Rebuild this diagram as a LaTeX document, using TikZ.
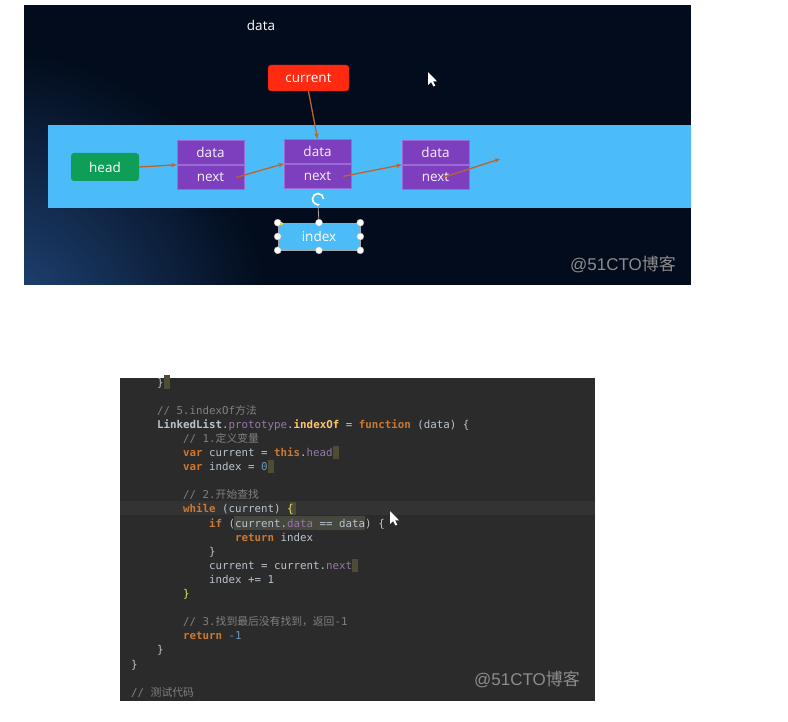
\documentclass[tikz,border=0pt]{standalone}
\usepackage{fontspec}
\usepackage{xcolor}
\setmainfont{Open Sans}
\newfontfamily\cjk{Noto Sans CJK SC}
\newfontfamily\codefont{DejaVu Sans Mono}
\newfontfamily\markfont{Liberation Sans}
\usetikzlibrary{arrows.meta,positioning}

\definecolor{slidebg}{HTML}{020C1C}
\definecolor{slideglow}{HTML}{234A80}
\definecolor{bandblue}{HTML}{4CBCF9}
\definecolor{cellpurple}{HTML}{7E3FBE}
\definecolor{celledge}{HTML}{9A6AD6}
\definecolor{headgreen}{HTML}{0E9E58}
\definecolor{curred}{HTML}{FF2A12}
\definecolor{linkbrown}{HTML}{C0622A}
\definecolor{codebg}{HTML}{2B2B2B}
\definecolor{codeln}{HTML}{333333}
\definecolor{codehl}{HTML}{46473F}
\definecolor{codecur}{HTML}{4E4C35}
\definecolor{codetx}{HTML}{BBC4CF}
\definecolor{codekw}{HTML}{CC7832}
\definecolor{codecm}{HTML}{808080}
\definecolor{codepr}{HTML}{9876AA}
\definecolor{codefn}{HTML}{FFC66D}
\definecolor{codenum}{HTML}{6897BB}
\definecolor{codebr}{HTML}{E6E66A}
\definecolor{markgray}{HTML}{8C8C8C}

\newcommand{\kwd}[1]{\textcolor{codekw}{\bfseries #1}}
\newcommand{\cmt}[1]{\textcolor{codecm}{#1}}
\newcommand{\prp}[1]{\textcolor{codepr}{#1}}
\newcommand{\fnm}[1]{\textcolor{codefn}{\bfseries #1}}
\newcommand{\nmb}[1]{\textcolor{codenum}{#1}}
\newcommand{\brk}[1]{\textcolor{codebr}{#1}}

\tikzset{
  pointer/.pic={\fill[white] (0,0) -- (0,13) -- (3,10) -- (5.5,14.5) -- (7.3,13.6) -- (5,9.3) -- (9,9.3) -- cycle;},
}

\begin{document}
\begin{tikzpicture}[x=1pt, y=-1pt, >={Stealth[length=5.5pt,width=4.5pt]},
    font=\fontsize{13.5pt}{16pt}\selectfont,
    cellbox/.style={fill=cellpurple, draw=celledge, line width=0.6pt, minimum width=67pt,
      minimum height=24.5pt, inner sep=0, text=white!92!cellpurple},
    tagbox/.style={minimum width=68pt, minimum height=28pt, inner sep=0, text=white, rounded corners=3pt},
    link/.style={->, linkbrown, line width=1.3pt},
    handle/.style={circle, fill=white, draw=gray!60, inner sep=0, minimum size=7pt},
    codeline/.style={anchor=base west, inner sep=0, text=codetx,
      font=\codefont\fontsize{10.8pt}{13pt}\selectfont},
    wmark/.style={text=markgray, font=\markfont\fontsize{17pt}{20pt}\selectfont}]
  \useasboundingbox (0,0) rectangle (788,722);
  \fill[white] (0,0) rectangle (788,722);

  % slide
  \fill[slidebg] (24,5) rectangle (691,285);
  \begin{scope}
    \clip (24,5) rectangle (691,285);
    \shade[inner color=slideglow, outer color=slidebg] (-10,330) circle (280);
  \end{scope}
  \fill[bandblue] (48,125) rectangle (691,208);

  \node[text=white] (title) at (261,25) {data};
  \node[tagbox, fill=curred, draw=curred!70!black, minimum width=81pt, minimum height=26pt] (cur) at (308.5,78) {current};
  \node[tagbox, fill=headgreen] (head) at (105,167) {head};

  \foreach \i/\x/\y in {1/210.5/152.25, 2/317.5/151.25, 3/435.5/152.25}{
    \node[cellbox] (d\i) at (\x,\y) {data};
    \node[cellbox, below=0pt of d\i] (n\i) {next};
  }
  \coordinate (tail) at (500,159);
  \draw[link] (head.east) -- (d1.south west);
  \draw[link] ([xshift=-8pt]n1.east) -- (d2.south west);
  \draw[link] ([xshift=-8pt]n2.east) -- (d3.south west);
  \draw[link] ([xshift=-26pt]n3.east) -- (tail);
  \draw[link] (cur.south) -- (d2.north);

  % selected index box
  \node[fill=bandblue, draw=gray!70, line width=0.6pt, minimum width=82pt, minimum height=27pt,
    inner sep=0, text=white] (idx) at (319,236.5) {index};
  \coordinate (rot) at (318,199);
  \draw[gray!70, line width=0.8pt] ([yshift=-6pt]rot) -- (idx.north);
  \draw[white, line width=1.6pt, -{Stealth[length=3pt]}] ([xshift=5.5pt]rot) arc[start angle=0, end angle=290, radius=5.5pt];
  \foreach \a [count=\k] in {north west, north, north east, west, east, south west, south, south east}
    \node[handle] (hdl\k) at (idx.\a) {};
  \fill[yellow!80!orange] ([xshift=4pt,yshift=-1pt]idx.north west) circle (1.8);

  \pic at (428,72) {pointer};
  \node[wmark] (wm1) at (623,264) {@51CTO{\cjk 博客}};

  % code
  \fill[codebg] (120,378) rectangle (595,701);
  \fill[codeln] (120,501) rectangle (595,515);
  \fill[codehl] (234,515.5) rectangle (365,529.5);
  \foreach \x/\y in {164/382, 333/452, 268/466, 290/508, 352/565}
    \fill[codecur] (\x,\y-6.5) rectangle +(6,13);

  \foreach \row/\lvl/\txt in {
      0/1/{\}},
      2/1/{\cmt{// 5.indexOf{\cjk 方法}}},
      3/1/{{\bfseries LinkedList}.\prp{prototype}.\fnm{indexOf} = \kwd{function} (data) \{},
      4/2/{\cmt{// 1.{\cjk 定义变量}}},
      5/2/{\kwd{var} current = \kwd{this}.\prp{head}},
      6/2/{\kwd{var} index = \nmb{0}},
      8/2/{\cmt{// 2.{\cjk 开始查找}}},
      9/2/{\kwd{while} (current) \brk{\{}},
      10/3/{\kwd{if} (current.\prp{data} == data) \{},
      11/4/{\kwd{return} index},
      12/3/{\}},
      13/3/{current = current.\prp{next}},
      14/3/{index += 1},
      15/2/{\brk{\}}},
      17/2/{\cmt{// 3.{\cjk 找到最后没有找到，返回}-1}},
      18/2/{\kwd{return} \nmb{-1}},
      19/1/{\}},
      20/0/{\}},
      22/0/{\cmt{// {\cjk 测试代码}}}}
    \node[codeline] (ln\row) at (131+26*\lvl, 386+14.1*\row) {\txt};

  \pic at (390,511) {pointer};
  \node[wmark] (wm2) at (527,679) {@51CTO{\cjk 博客}};
\end{tikzpicture}
\end{document}
